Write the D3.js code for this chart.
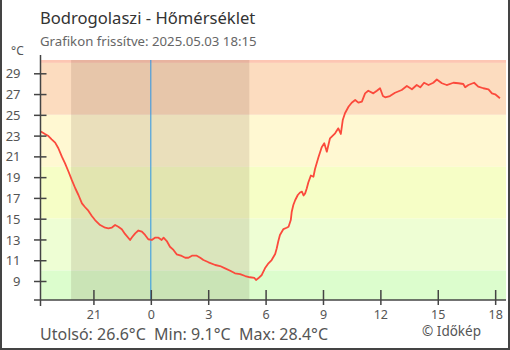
<!DOCTYPE html>
<html>
<head>
<meta charset="utf-8">
<script src="https://cdn.jsdelivr.net/npm/d3@7"></script>
<style>
  html, body { margin: 0; padding: 0; background: #fff; }
  svg { display: block; font-family: "Noto Sans", "Open Sans", sans-serif; }
</style>
</head>
<body>
<svg id="chart" width="510" height="350"></svg>
<script>
// Station and header texts
const stationName = "Bodrogolaszi";
const updatedAt = "2025.05.03 18:15";

// Temperature readings (°C), time stamps from 2025-05-02 18:15 to 2025-05-03 18:15
const times = [
  "05-02 18:15","05-02 18:28","05-02 18:39","05-02 18:49","05-02 19:00","05-02 19:10",
  "05-02 19:21","05-02 19:31","05-02 19:42","05-02 19:52","05-02 20:03","05-02 20:13",
  "05-02 20:24","05-02 20:34","05-02 20:44","05-02 20:55","05-02 21:05","05-02 21:21",
  "05-02 21:37","05-02 21:47","05-02 21:58","05-02 22:08","05-02 22:18","05-02 22:29",
  "05-02 22:39","05-02 22:55","05-02 23:01","05-02 23:11","05-02 23:21","05-02 23:32",
  "05-02 23:42","05-02 23:52","05-03 00:03","05-03 00:13","05-03 00:24","05-03 00:34",
  "05-03 00:40","05-03 00:50","05-03 01:00","05-03 01:11","05-03 01:21","05-03 01:37",
  "05-03 01:48","05-03 01:58","05-03 02:09","05-03 02:24","05-03 02:35","05-03 02:45",
  "05-03 03:01","05-03 03:22","05-03 03:37","05-03 03:53","05-03 04:09","05-03 04:24",
  "05-03 04:40","05-03 04:56","05-03 05:11","05-03 05:25","05-03 05:30","05-03 05:37",
  "05-03 05:48","05-03 05:58","05-03 06:09","05-03 06:19","05-03 06:30","05-03 06:35",
  "05-03 06:40","05-03 06:45","05-03 06:56","05-03 07:06","05-03 07:12","05-03 07:19",
  "05-03 07:22","05-03 07:27","05-03 07:33","05-03 07:41","05-03 07:48","05-03 07:54",
  "05-03 07:59","05-03 08:04","05-03 08:09","05-03 08:14","05-03 08:22","05-03 08:30",
  "05-03 08:35","05-03 08:46","05-03 08:56","05-03 09:04","05-03 09:12","05-03 09:22",
  "05-03 09:38","05-03 09:48","05-03 09:56","05-03 10:02","05-03 10:09","05-03 10:20",
  "05-03 10:30","05-03 10:41","05-03 10:51","05-03 11:02","05-03 11:12","05-03 11:22",
  "05-03 11:38","05-03 11:49","05-03 11:59","05-03 12:08","05-03 12:15","05-03 12:30",
  "05-03 12:46","05-03 13:07","05-03 13:23","05-03 13:39","05-03 13:54","05-03 14:05",
  "05-03 14:17","05-03 14:31","05-03 14:46","05-03 14:57","05-03 15:13","05-03 15:28",
  "05-03 15:49","05-03 16:05","05-03 16:20","05-03 16:26","05-03 16:36","05-03 16:54",
  "05-03 17:07","05-03 17:23","05-03 17:39","05-03 17:50","05-03 18:00","05-03 18:15"
];
const temps = [
  23.4, 23.15, 22.96, 22.64, 22.32, 21.78,
  20.97, 20.33, 19.52, 18.73, 17.93, 17.28,
  16.48, 16.1, 15.77, 15.26, 14.87, 14.39,
  14.13, 14.07, 14.15, 14.39, 14.23, 13.98,
  13.53, 12.95, 13.21, 13.59, 13.86, 13.75,
  13.43, 13.02, 12.95, 13.17, 13.17, 12.95,
  13.17, 12.85, 12.3, 11.99, 11.57, 11.41,
  11.24, 11.24, 11.44, 11.44, 11.24, 11.02,
  10.8, 10.54, 10.44, 10.22, 9.99, 9.74,
  9.67, 9.48, 9.36, 9.29, 9.1, 9.26,
  9.58, 10.22, 10.7, 11.02, 11.6, 12.15,
  12.85, 13.43, 14.0, 14.13, 14.23, 14.87,
  15.67, 16.32, 16.8, 17.28, 17.52, 17.6,
  17.23, 17.44, 17.9, 18.48, 19.16, 19.04,
  19.78, 20.94, 21.87, 22.26, 21.45, 22.74,
  23.22, 23.7, 23.16, 24.5, 25.15, 25.78,
  26.17, 26.43, 26.17, 26.27, 27.07, 27.32,
  27.07, 27.32, 27.56, 26.81, 26.69, 26.81,
  27.13, 27.39, 27.78, 27.46, 27.87, 27.65,
  28.09, 27.87, 28.09, 28.4, 28.04, 27.87,
  28.09, 28.04, 27.97, 27.65, 27.87, 28.09,
  27.71, 27.56, 27.46, 27.07, 26.98, 26.6
];

// Summary values shown under the chart
const lastTemp = 26.6, minTemp = 9.1, maxTemp = 28.4;

// Axis ticks (hour marks; 21 belongs to the previous day)
const yTicks = [9, 11, 13, 15, 17, 19, 21, 23, 25, 27, 29];
const xTicks = ["05-02 21:00", "05-03 00:00", "05-03 03:00", "05-03 06:00",
                "05-03 09:00", "05-03 12:00", "05-03 15:00", "05-03 18:00"];

// Temperature background bands
const bandFrom = [30, 25, 20, 15, 10, -50];
const bandTo   = [50, 30, 25, 20, 15, 10];
const bandColors = ["#fdc6b3", "#fcdcbf", "#fff8d2", "#f6fec6", "#eefed4", "#dcfdcd"];

// Night (sunset to sunrise)
const nightStart = "05-02 19:50", nightEnd = "05-03 05:09";
const midnight = "05-03 00:00";
const domainStart = "05-02 18:14", domainEnd = "05-03 18:34";

const parse = d3.timeParse("%Y-%m-%d %H:%M");
const p = s => parse("2025-" + s);
const data = times.map((t, i) => ({ t: p(t), v: temps[i] }));

const svg = d3.select("#chart");
const plotLeft = 40.5, plotRight = 506, plotTop = 60, plotBottom = 300;
const yMin = 7.17, yMax = 30.28;

const x = d3.scaleTime().domain([p(domainStart), p(domainEnd)]).range([plotLeft, plotRight]);
const y = d3.scaleLinear().domain([yMin, yMax]).range([plotBottom, plotTop]);

// Bands, clipped to the plot area
const plot = svg.append("g");
plot.append("clipPath").attr("id", "plotclip")
  .append("rect").attr("x", plotLeft).attr("y", plotTop)
  .attr("width", plotRight - plotLeft).attr("height", plotBottom - plotTop);
const bands = plot.append("g").attr("clip-path", "url(#plotclip)");
bandColors.forEach((c, i) => {
  const y0 = y(Math.min(bandTo[i], yMax)), y1 = y(Math.max(bandFrom[i], yMin));
  bands.append("rect")
    .attr("x", plotLeft).attr("y", y0)
    .attr("width", plotRight - plotLeft).attr("height", y1 - y0)
    .attr("fill", c);
});

// Night shading
bands.append("rect")
  .attr("x", x(p(nightStart))).attr("y", plotTop)
  .attr("width", x(p(nightEnd)) - x(p(nightStart))).attr("height", plotBottom - plotTop)
  .attr("fill", "rgba(60,30,0,0.11)");

// Midnight marker
bands.append("line")
  .attr("x1", x(p(midnight))).attr("x2", x(p(midnight)))
  .attr("y1", plotTop).attr("y2", plotBottom)
  .attr("stroke", "#2b95e6").attr("stroke-width", 1);

// Temperature line
bands.append("path")
  .datum(data)
  .attr("fill", "none")
  .attr("stroke", "#fb4a3c")
  .attr("stroke-width", 1.8)
  .attr("stroke-linejoin", "round")
  .attr("d", d3.line().x(d => x(d.t)).y(d => y(d.v)));

// Axes
const axisColor = "#444";
const tickColor = "#555";

const yAxis = svg.append("g").attr("transform", `translate(${plotLeft},0)`)
  .call(d3.axisLeft(y).tickValues(yTicks).tickSize(0).tickPadding(0).tickFormat(d3.format("d")));
yAxis.select(".domain").remove();
yAxis.selectAll(".tick text")
  .attr("x", -20).attr("dy", "0.35em")
  .attr("fill", tickColor).attr("font-size", 13)
  .attr("font-family", "Noto Sans, sans-serif");
yAxis.selectAll(".tick").append("line")
  .attr("x1", -6.5).attr("x2", 6).attr("stroke", axisColor).attr("stroke-width", 1.5);

const xAxis = svg.append("g").attr("transform", `translate(0,${plotBottom})`)
  .call(d3.axisBottom(x).tickValues(xTicks.map(p)).tickSize(0).tickPadding(0).tickFormat(d3.timeFormat("%-H")));
xAxis.select(".domain").remove();
xAxis.selectAll(".tick text")
  .attr("y", 14.5).attr("dy", "0.35em")
  .attr("fill", tickColor).attr("font-size", 12.5)
  .attr("font-family", "Noto Sans, sans-serif");
xAxis.selectAll(".tick").append("line")
  .attr("y1", -10).attr("y2", 5).attr("stroke", axisColor).attr("stroke-width", 1.5);

// Axis lines
svg.append("line").attr("x1", plotLeft).attr("x2", plotLeft).attr("y1", 55).attr("y2", 306)
  .attr("stroke", axisColor).attr("stroke-width", 1.5);
svg.append("line").attr("x1", 34).attr("x2", plotRight).attr("y1", plotBottom).attr("y2", plotBottom)
  .attr("stroke", axisColor).attr("stroke-width", 1.5);

// Unit label
svg.append("text").attr("x", 11).attr("y", 55).attr("font-size", 12).attr("fill", tickColor).text("°C");

// Header
svg.append("text").attr("x", 40).attr("y", 24).attr("font-size", 16.6).attr("fill", "#333")
  .text(`${stationName} - Hőmérséklet`);
svg.append("text").attr("x", 40).attr("y", 45.5).attr("font-size", 13.2).attr("fill", "#666")
  .text(`Grafikon frissítve: ${updatedAt}`);

// Footer
const fmt = v => v.toFixed(1) + "°C";
svg.append("text").attr("x", 40).attr("y", 340).attr("font-size", 16).attr("fill", "#555")
  .attr("xml:space", "preserve")
  .text(`Utolsó: ${fmt(lastTemp)}  Min: ${fmt(minTemp)}  Max: ${fmt(maxTemp)}`);
svg.append("text").attr("x", 481).attr("y", 336).attr("text-anchor", "end")
  .attr("font-size", 13.5).attr("fill", "#555").text("© Időkép");

// Frame
svg.append("path").attr("d", "M1,0 V349 H509 V0")
  .attr("fill", "none").attr("stroke", "#444").attr("stroke-width", 2);
</script>
</body>
</html>
